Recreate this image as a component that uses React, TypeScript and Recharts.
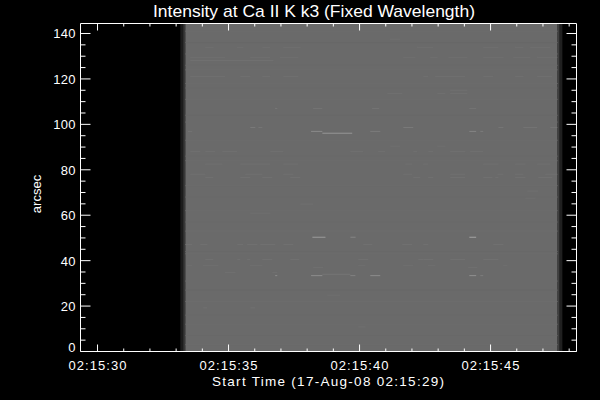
import React from 'react';
import { ComposedChart, XAxis, YAxis, ReferenceArea, ReferenceLine } from 'recharts';

const majorSeconds = [30, 35, 40, 45];
const timeTicks = [30, 31, 32, 33, 34, 35, 36, 37, 38, 39, 40, 41, 42, 43, 44, 45, 46, 47, 48];
const arcsecTicks = [0, 5, 10, 15, 20, 25, 30, 35, 40, 45, 50, 55, 60, 65, 70, 75, 80, 85, 90, 95, 100, 105, 110, 115, 120, 125, 130, 135, 140];

// start second, end second, intensity
const scanColumns = [
  [33.16, 33.27, 28],
  [33.27, 33.35, 56],
  [33.35, 47.56, 106],
  [47.56, 47.64, 64],
  [47.64, 47.74, 32],
];

// arcsec, intensity: rows that differ a little over the whole scan
const rowBands = [
  [141, 108], [136, 104], [131, 108], [126, 105], [124, 108], [118, 108], [116, 104], [111, 108], [104, 104],
  [101, 108], [93, 108], [86, 105], [84, 108], [73, 108], [68, 105], [62, 108], [57, 104], [53, 108], [44, 104],
  [43, 108], [31, 108], [27, 104], [22, 108], [16, 105], [12, 108], [7, 104], [3, 108],
];

// arcsec, start second, end second
const faintStreaks = [
  [137.5, 41.17, 41.55],
  [133.9, 34.11, 34.42], [133.9, 35.33, 35.56], [133.9, 36.29, 36.59], [133.9, 37.09, 37.74], [133.9, 42.2, 42.81], [133.9, 44.72, 45.3], [133.9, 45.94, 46.25], [133.9, 46.52, 47.28],
  [129.5, 33.54, 34.87], [129.5, 35.83, 36.59], [129.5, 36.97, 37.66], [129.5, 41.67, 42.13], [129.5, 42.7, 42.97], [129.5, 43.39, 44.11], [129.5, 44.72, 45.49], [129.5, 45.87, 46.52], [129.5, 46.78, 47.55],
  [128.1, 33.54, 36.71],
  [121.1, 33.54, 34.87], [121.1, 35.45, 35.83], [121.1, 36.29, 36.59], [121.1, 37.09, 37.66], [121.1, 42.43, 42.62], [121.1, 42.89, 44.03], [121.1, 44.72, 45.1], [121.1, 45.94, 46.25], [121.1, 46.78, 47.35],
  [115, 43.46, 44.11],
  [113.6, 41.06, 41.63], [113.6, 42.97, 43.27], [113.6, 43.46, 44.11],
  [90.4, 41.17, 41.55], [90.4, 42.97, 43.27],
  [88, 33.54, 33.92], [88, 34.11, 34.49], [88, 34.76, 35.33], [88, 36.59, 37.09], [88, 39.65, 40.14], [88, 40.71, 40.98], [88, 42.05, 42.2], [88, 42.62, 42.81], [88, 43.46, 44.03], [88, 44.22, 44.72],
  [82.5, 34.11, 34.76], [82.5, 35.45, 36.59], [82.5, 37.09, 37.66], [82.5, 41.74, 42.01], [82.5, 42.43, 42.62], [82.5, 44.72, 45.3], [82.5, 45.94, 46.33], [82.5, 46.78, 47.28],
  [78, 33.54, 34.11], [78, 35.64, 36.29], [78, 37.09, 37.47], [78, 41.67, 42.01], [78, 43.46, 44.03], [78, 45.26, 45.49], [78, 45.94, 46.25], [78, 47.09, 47.55],
  [76.6, 34.11, 34.42], [76.6, 35.45, 35.83], [76.6, 36.29, 36.67], [76.6, 37.36, 37.74], [76.6, 42.05, 42.32], [76.6, 42.62, 42.81], [76.6, 43.46, 44.03], [76.6, 44.72, 45.07], [76.6, 45.18, 45.3], [76.6, 45.94, 46.33], [76.6, 46.82, 47.35],
  [70.6, 46.4, 46.82], [67.5, 46.33, 46.71], [64.9, 37.74, 38.23], [60.9, 35.83, 36.59],
  [47.1, 33.35, 33.61], [47.1, 33.92, 34.19], [47.1, 35.33, 35.56], [47.1, 35.71, 36.1], [47.1, 36.21, 36.78], [47.1, 37.09, 37.47], [47.1, 40.14, 40.48], [47.1, 41.63, 42.01], [47.1, 42.43, 42.62], [47.1, 45.1, 45.49],
  [40.5, 34.11, 34.42], [40.5, 35.33, 35.45], [40.5, 35.71, 35.83], [40.5, 36.29, 36.67], [40.5, 37.36, 37.7], [40.5, 39.95, 40.33], [40.5, 42.24, 42.43], [40.5, 42.43, 42.81], [40.5, 43.46, 44.03], [40.5, 44.72, 45.3],
  [37.9, 33.42, 33.61], [37.9, 34.03, 34.61], [37.9, 35.83, 36.29], [37.9, 39.95, 40.22], [37.9, 41.67, 42.05], [37.9, 42.62, 42.89], [37.9, 45.49, 45.64],
  [37, 38.23, 38.61], [37, 44.15, 44.49],
  [34.8, 34.87, 35.26], [34.8, 36.67, 36.86],
  [24.8, 38.77, 39.26], [19.2, 34.03, 34.19], [19.2, 35.83, 36.02], [10.8, 39.95, 40.22],
];

// arcsec, start second, end second, intensity
const brightStreaks = [
  [107, 38.23, 38.58, 116], [107, 36.78, 36.86, 120], [107, 40.48, 40.75, 116], [107, 44.19, 44.45, 116],
  [98.6, 35.83, 36.02, 122], [98.6, 36.14, 36.29, 118], [98.6, 41.67, 42.05, 122], [98.6, 45.3, 45.49, 118], [98.6, 46.25, 46.78, 116], [98.6, 47.28, 47.55, 116],
  [96.9, 38.15, 38.58, 138], [96.9, 33.45, 33.61, 116], [96.9, 40.41, 40.79, 124], [96.9, 44.19, 44.45, 132], [96.9, 44.61, 44.72, 124],
  [96.1, 38.58, 39.72, 150],
  [50.3, 38.2, 38.7, 155], [50.3, 39.65, 39.85, 132], [50.3, 44.19, 44.45, 165],
  [33.4, 38.15, 38.58, 140], [34, 38.58, 39.65, 118], [33.4, 39.65, 39.84, 130], [33.4, 40.41, 40.79, 140], [33.4, 36.78, 36.86, 140], [33.4, 44.19, 44.45, 145], [33.4, 44.61, 44.72, 125],
];

const timeRows = timeTicks.map((t) => ({ t }));

const shade = (v: number) => `rgb(${v},${v},${v})`;
const captionFont = { fontFamily: 'Liberation Sans', fill: '#ffffff', stroke: 'none' };
const timeLabel = (s: number) => `02:15:${s}`;

const BottomTick = ({ x, y, payload }: any) => {
  const major = majorSeconds.includes(payload.value);
  return (
    <g>
      <line x1={x} x2={x} y1={y} y2={y - (major ? 7 : 3)} stroke="#fff" />
      {major && (
        <text x={x} y={y + 18} textAnchor="middle" fontSize={13} textLength={58} {...captionFont}>
          {timeLabel(payload.value)}
        </text>
      )}
    </g>
  );
};

const TopTick = ({ x, y, payload }: any) => (
  <line x1={x} x2={x} y1={y} y2={y + (majorSeconds.includes(payload.value) ? 7 : 3)} stroke="#fff" />
);

const LeftTick = ({ x, y, payload }: any) => {
  const major = payload.value % 20 === 0;
  const digits = String(payload.value).length;
  // the 0 label sits above the corner, clear of the time labels
  const baseline = payload.value === 0 ? y : y + 5;
  return (
    <g>
      <line x1={x} x2={x + (major ? 10 : 5)} y1={y} y2={y} stroke="#fff" />
      {major && (
        <text x={x - 5} y={baseline} textAnchor="end" fontSize={13} textLength={digits * 7.4} {...captionFont}>
          {payload.value}
        </text>
      )}
    </g>
  );
};

const RightTick = ({ x, y, payload }: any) => (
  <line x1={x} x2={x - (payload.value % 20 === 0 ? 10 : 5)} y1={y} y2={y} stroke="#fff" />
);

export default function App() {
  return (
    <div style={{ position: 'absolute', left: 0, top: 0, width: 600, height: 400, background: '#000' }}>
      <ComposedChart width={600} height={400} data={timeRows} margin={{ top: 0, right: 0, bottom: 0, left: 0 }}>
        {scanColumns.map(([a, b, v]) => (
          <ReferenceArea key={a} xAxisId="bottom" yAxisId="left" x1={a} x2={b} y1={0} y2={144.4} fill={shade(v)} fillOpacity={1} stroke="none" />
        ))}
        {rowBands.map(([y, v]) => (
          <ReferenceLine key={y} xAxisId="bottom" yAxisId="left" segment={[{ x: 33.35, y }, { x: 47.56, y }]} stroke={shade(v)} strokeWidth={1} />
        ))}
        {faintStreaks.map(([y, a, b]) => (
          <ReferenceLine key={`f${y}-${a}`} xAxisId="bottom" yAxisId="left" segment={[{ x: a, y }, { x: b, y }]} stroke={shade(112)} strokeWidth={1} />
        ))}
        {brightStreaks.map(([y, a, b, v]) => (
          <ReferenceLine key={`b${y}-${a}`} xAxisId="bottom" yAxisId="left" segment={[{ x: a, y }, { x: b, y }]} stroke={shade(v)} strokeWidth={1} />
        ))}
        <XAxis xAxisId="bottom" dataKey="t" type="number" orientation="bottom" domain={[29.35, 48.28]} allowDataOverflow ticks={timeTicks} interval={0} height={48.5} stroke="#fff" tickLine={false} tickSize={0} tickMargin={0} tick={<BottomTick />} />
        <XAxis xAxisId="top" dataKey="t" type="number" orientation="top" domain={[29.35, 48.28]} allowDataOverflow ticks={timeTicks} interval={0} height={23.5} stroke="#fff" tickLine={false} tickSize={0} tickMargin={0} tick={<TopTick />} />
        <YAxis yAxisId="left" type="number" orientation="left" domain={[0, 144.4]} allowDataOverflow ticks={arcsecTicks} interval={0} width={80.5} stroke="#fff" tickLine={false} tickSize={0} tickMargin={0} tick={<LeftTick />} />
        <YAxis yAxisId="right" type="number" orientation="right" domain={[0, 144.4]} allowDataOverflow ticks={arcsecTicks} interval={0} width={23.5} stroke="#fff" tickLine={false} tickSize={0} tickMargin={0} tick={<RightTick />} />
        <text x={153} y={17} fontSize={17} textLength={322} lengthAdjust="spacingAndGlyphs" {...captionFont}>
          Intensity at Ca II K k3 (Fixed Wavelength)
        </text>
        <text x={212} y={386} fontSize={13.5} textLength={232} {...captionFont}>
          Start Time (17-Aug-08 02:15:29)
        </text>
        <text x={41} y={194} fontSize={13} textAnchor="middle" transform="rotate(-90 41 194)" {...captionFont}>
          arcsec
        </text>
      </ComposedChart>
    </div>
  );
}
